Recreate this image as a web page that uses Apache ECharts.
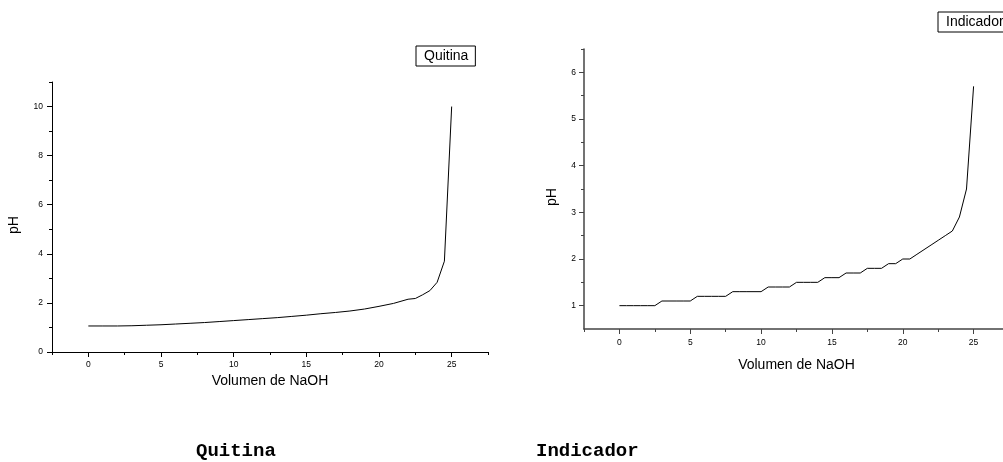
<!DOCTYPE html>
<html>
<head>
<meta charset="utf-8">
<script src="https://cdn.jsdelivr.net/npm/echarts@6/dist/echarts.min.js"></script>
<style>
  html, body { margin: 0; padding: 0; background: #fff; }
  #chart { width: 1003px; height: 462px; }
</style>
</head>
<body>
<div id="chart"></div>
<script>
// Quitina titration
var quitinaVol = [0, 1, 2, 3, 4, 5, 6, 7, 8, 9, 10, 11, 12, 13, 14, 15, 16, 17, 18, 19, 20, 21, 22, 22.5, 23, 23.5, 24, 24.5, 25];
var quitinaPH = [1.06, 1.06, 1.06, 1.07, 1.09, 1.11, 1.14, 1.17, 1.2, 1.24, 1.28, 1.32, 1.36, 1.4, 1.45, 1.5, 1.56, 1.61, 1.67, 1.75, 1.86, 1.98, 2.15, 2.18, 2.33, 2.5, 2.84, 3.7, 10.0];

// Indicador titration
var indicadorVol = [0, 0.5, 1, 1.5, 2, 2.5, 3, 3.5, 4, 4.5, 5, 5.5, 6, 6.5, 7, 7.5, 8, 8.5, 9, 9.5, 10,
  10.5, 11, 11.5, 12, 12.5, 13, 13.5, 14, 14.5, 15, 15.5, 16, 16.5, 17, 17.5, 18, 18.5, 19, 19.5, 20,
  20.5, 21, 21.5, 22, 22.5, 23, 23.5, 24, 24.5, 25];
var indicadorPH = [1.0, 1.0, 1.0, 1.0, 1.0, 1.0, 1.1, 1.1, 1.1, 1.1, 1.1, 1.2, 1.2, 1.2, 1.2, 1.2, 1.3, 1.3, 1.3, 1.3, 1.3,
  1.4, 1.4, 1.4, 1.4, 1.5, 1.5, 1.5, 1.5, 1.6, 1.6, 1.6, 1.7, 1.7, 1.7, 1.8, 1.8, 1.8, 1.9, 1.9, 2.0,
  2.0, 2.1, 2.2, 2.3, 2.4, 2.5, 2.6, 2.9, 3.5, 5.7];

// tick labels
var xTicks = [0, 5, 10, 15, 20, 25];
var xMinorTicks = [-2.5, 2.5, 7.5, 12.5, 17.5, 22.5, 27.5];
var yTicksQuitina = [0, 2, 4, 6, 8, 10];
var yMinorQuitina = [1, 3, 5, 7, 9, 11];
var yTicksIndicador = [1, 2, 3, 4, 5, 6];
var yMinorIndicador = [1.5, 2.5, 3.5, 4.5, 5.5, 6.5];

var font = "Liberation Sans, Arial, sans-serif";

function pairs(xs, ys) {
  var out = [];
  for (var i = 0; i < xs.length; i++) out.push([xs[i], ys[i]]);
  return out;
}

function mainAxis(o) {
  return {
    type: "value",
    gridIndex: o.grid,
    position: o.position,
    min: o.min,
    max: o.max,
    name: o.name,
    nameLocation: "middle",
    nameGap: o.nameGap,
    nameTextStyle: Object.assign({ color: "#000", fontSize: 14, fontFamily: font }, o.nameStyle || {}),
    axisLine: { show: true, onZero: false, lineStyle: { color: o.lineColor, width: o.lineWidth } },
    axisTick: { show: true, inside: false, length: 5, customValues: o.ticks, lineStyle: { color: o.lineColor } },
    axisLabel: { show: true, customValues: o.ticks, margin: o.margin, color: "#000", fontSize: 8.5, fontFamily: font },
    splitLine: { show: false }
  };
}

function minorAxis(o) {
  return {
    type: "value",
    gridIndex: o.grid,
    position: o.position,
    min: o.min,
    max: o.max,
    axisLine: { show: false, onZero: false },
    axisTick: { show: true, inside: false, length: 3, customValues: o.ticks, lineStyle: { color: o.lineColor } },
    axisLabel: { show: false },
    splitLine: { show: false }
  };
}

var chart = echarts.init(document.getElementById("chart"), null, { renderer: "canvas" });

var option = {
  backgroundColor: "#fff",
  animation: false,
  title: [
    { text: "Quitina", left: 196, top: 442, padding: 0,
      textStyle: { fontFamily: "Liberation Mono, Courier New, monospace", fontWeight: "bold", fontSize: 19, color: "#000" } },
    { text: "Indicador", left: 536, top: 442, padding: 0,
      textStyle: { fontFamily: "Liberation Mono, Courier New, monospace", fontWeight: "bold", fontSize: 19, color: "#000" } }
  ],
  legend: [
    { data: ["Quitina"], left: 416, top: 46, itemWidth: 0, itemHeight: 0, padding: [3, 7, 3, 2],
      borderColor: "#000", borderWidth: 1, selectedMode: false,
      itemStyle: { opacity: 0 }, lineStyle: { opacity: 0 },
      textStyle: { color: "#000", fontSize: 14, fontFamily: font } },
    { data: ["Indicador"], left: 938, top: 12, itemWidth: 0, itemHeight: 0, padding: [3, 7, 3, 2],
      borderColor: "#000", borderWidth: 1, selectedMode: false,
      itemStyle: { opacity: 0 }, lineStyle: { opacity: 0 },
      textStyle: { color: "#000", fontSize: 14, fontFamily: font } }
  ],
  grid: [
    { left: 52, top: 82, width: 436, height: 270, containLabel: false, outerBoundsMode: "none" },
    { left: 584, top: 49, width: 425, height: 280, containLabel: false, outerBoundsMode: "none" }
  ],
  xAxis: [
    mainAxis({ grid: 0, position: "bottom", min: -2.5, max: 27.5, name: "Volumen de NaOH", nameGap: 21,
      ticks: xTicks, margin: 8, lineColor: "#000", lineWidth: 1 }),
    minorAxis({ grid: 0, position: "bottom", min: -2.5, max: 27.5, ticks: xMinorTicks, lineColor: "#000" }),
    mainAxis({ grid: 1, position: "bottom", min: -2.5, max: 27.5, name: "Volumen de NaOH", nameGap: 29,
      ticks: xTicks, margin: 9, lineColor: "#444", lineWidth: 1.5 }),
    minorAxis({ grid: 1, position: "bottom", min: -2.5, max: 27.5, ticks: xMinorTicks, lineColor: "#444" })
  ],
  yAxis: [
    mainAxis({ grid: 0, position: "left", min: 0, max: 11, name: "pH", nameGap: 31,
      nameStyle: { padding: [0, 16, 0, 0] },
      ticks: yTicksQuitina, margin: 9, lineColor: "#000", lineWidth: 1 }),
    minorAxis({ grid: 0, position: "left", min: 0, max: 11, ticks: yMinorQuitina, lineColor: "#000" }),
    mainAxis({ grid: 1, position: "left", min: 0.5, max: 6.5, name: "pH", nameGap: 25,
      nameStyle: { padding: [0, 16, 0, 0] },
      ticks: yTicksIndicador, margin: 8, lineColor: "#444", lineWidth: 1.5 }),
    minorAxis({ grid: 1, position: "left", min: 0.5, max: 6.5, ticks: yMinorIndicador, lineColor: "#444" })
  ],
  series: [
    {
      name: "Quitina",
      type: "line",
      xAxisIndex: 0,
      yAxisIndex: 0,
      showSymbol: false,
      symbol: "none",
      lineStyle: { color: "#000", width: 1 },
      itemStyle: { color: "#000" },
      data: pairs(quitinaVol, quitinaPH)
    },
    {
      name: "Indicador",
      type: "line",
      xAxisIndex: 2,
      yAxisIndex: 2,
      showSymbol: false,
      symbol: "none",
      lineStyle: { color: "#000", width: 1 },
      itemStyle: { color: "#000" },
      data: pairs(indicadorVol, indicadorPH)
    }
  ]
};

chart.setOption(option);
</script>
</body>
</html>
